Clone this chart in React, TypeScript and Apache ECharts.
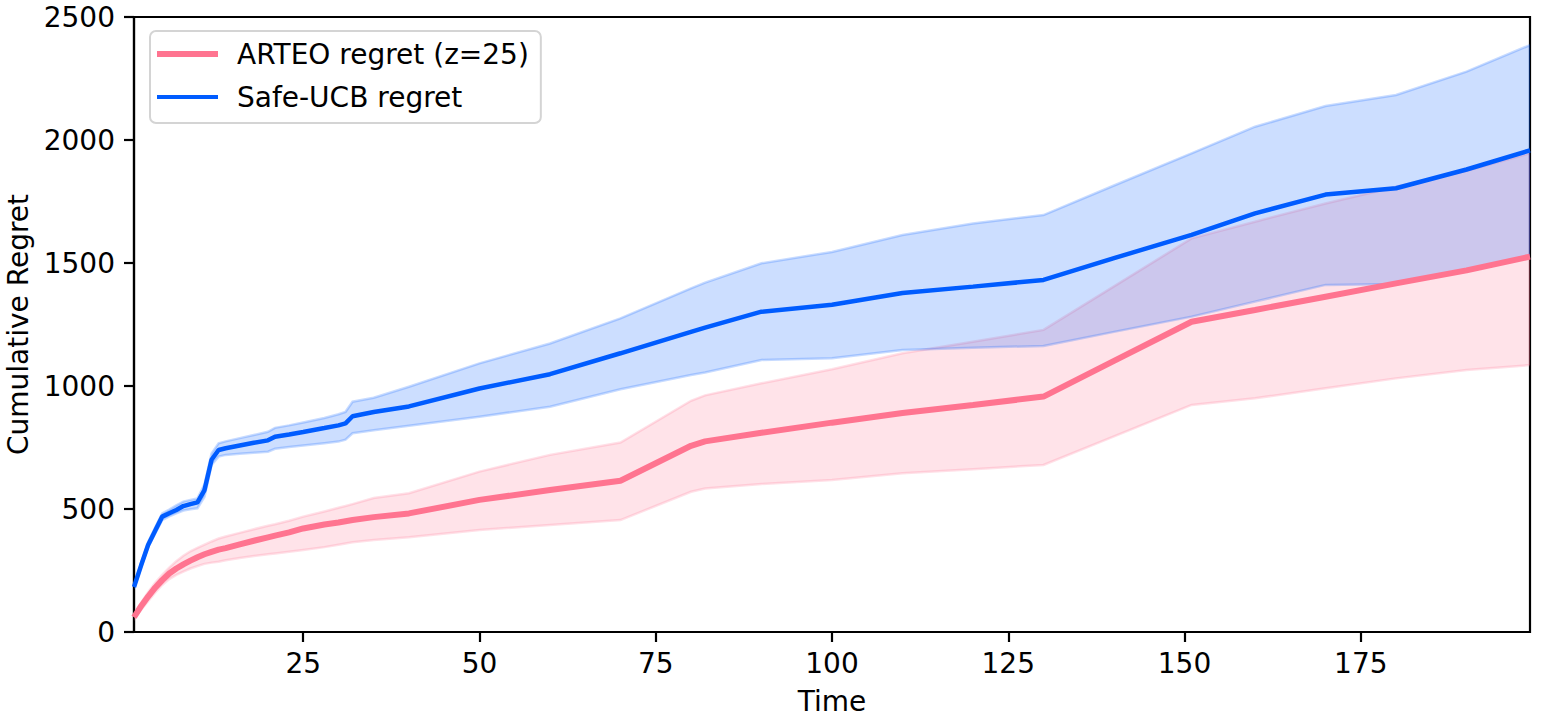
import React, { useEffect, useRef } from "react";
import * as echarts from "echarts";

const timeSteps = [1,2,3,4,5,6,7,8,9,10,11,12,13,14,16,18,20,21,23,25,28,30,31,32,35,40,50,60,70,80,82,90,100,110,120,130,140,151,160,170,180,190,199];

const arteoMean = [60,105,144,180,211,238,258,275,290,304,316,326,335,341,356,371,385,392,405,421,437,445,450,455,467,482,537,577,615,757,775,810,851,890,923,957,1102,1261,1309,1363,1417,1470,1526];
const arteoUpper = [68,118,162,200,232,262,288,310,328,342,355,368,380,388,403,418,432,438,452,469,490,505,512,520,545,564,652,720,770,940,962,1011,1068,1133,1180,1228,1405,1600,1668,1742,1810,1875,1946];
const arteoLower = [53,90,125,160,191,215,232,245,258,268,277,282,286,292,301,309,316,319,326,333,345,355,360,365,374,385,415,435,455,570,583,602,618,645,662,679,795,923,950,991,1031,1065,1085];

const ucbMean = [183,270,354,412,469,483,496,512,520,527,577,700,740,747,758,769,779,794,803,813,829,840,848,877,894,917,990,1048,1133,1220,1237,1302,1330,1378,1404,1431,1520,1614,1702,1778,1804,1880,1958];
const ucbUpper = [190,280,365,425,482,498,515,530,537,543,600,726,767,775,788,801,814,830,840,852,870,885,895,936,952,997,1092,1173,1275,1397,1420,1499,1545,1614,1661,1695,1815,1946,2054,2138,2183,2278,2386];
const ucbLower = [176,262,344,400,455,470,482,494,499,503,550,679,713,720,725,729,733,745,752,758,767,774,782,808,820,838,875,916,987,1045,1055,1106,1113,1146,1155,1163,1220,1282,1343,1411,1415,1470,1525];

const xTicks = [25, 50, 75, 100, 125, 150, 175];
const yTicks = [0, 500, 1000, 1500, 2000, 2500];

const ARTEO_NAME = "ARTEO regret (z=25)";
const UCB_NAME = "Safe-UCB regret";

const RED = "#ff7490";
const BLUE = "#005cff";
const FONT = "DejaVu Sans";
const FS = 28;

function pairs(ys: number[]) {
  return timeSteps.map((t, i) => [t, ys[i]]);
}

function bandSeries(key: string, lower: number[], upper: number[], color: string) {
  return {
    type: "custom",
    name: key + "_band",
    silent: true,
    z: 1,
    clip: true,
    data: timeSteps.map((t, i) => [t, lower[i], upper[i]]),
    encode: { x: 0, y: [1, 2] },
    renderItem: (params: any, api: any) => {
      if (params.dataIndex !== 0) return null;
      const pts: number[][] = [];
      for (let i = 0; i < timeSteps.length; i++) pts.push(api.coord([timeSteps[i], upper[i]]));
      for (let i = timeSteps.length - 1; i >= 0; i--) pts.push(api.coord([timeSteps[i], lower[i]]));
      return {
        type: "polygon",
        shape: { points: pts },
        style: {
          fill: echarts.color.modifyAlpha(color, 0.2),
          stroke: echarts.color.modifyAlpha(color, 0.22),
          lineWidth: 2.5,
        },
      };
    },
  };
}

export default function App() {
  const ref = useRef<HTMLDivElement>(null);
  useEffect(() => {
    document.body.style.margin = "0";
    if (!ref.current) return;
    const chart = echarts.init(ref.current, null, { renderer: "svg" });
    const axisLineStyle = { color: "#000", width: 2.2 };
    chart.setOption({
      animation: false,
      backgroundColor: "#fff",
      grid: {
        left: 134,
        top: 17,
        width: 1396,
        height: 615,
        containLabel: false,
        outerBoundsMode: "none",
        show: true,
        borderColor: "#000",
        borderWidth: 2.2,
        backgroundColor: "transparent",
      },
      legend: {
        data: [
          { name: ARTEO_NAME, icon: "path://M0,0H61V6H0Z" },
          { name: UCB_NAME, icon: "path://M0,0H61V0.01H0Z M0,1H61V5H0Z M0,5.99H61V6H0Z" },
        ],
        orient: "vertical",
        left: 150,
        top: 31,
        itemWidth: 61,
        itemHeight: 6,
        itemGap: 15,
        padding: [9, 12, 12, 7],
        borderColor: "#d4d4d4",
        borderWidth: 2,
        borderRadius: 6,
        backgroundColor: "rgba(255,255,255,0.8)",
        textStyle: { fontSize: FS, fontFamily: FONT, color: "#000", padding: [0, 0, 0, 14] },
      },
      xAxis: {
        type: "value",
        min: 1,
        max: 199,
        name: "Time",
        nameLocation: "middle",
        nameGap: 55,
        nameTextStyle: { fontSize: FS, fontFamily: FONT, color: "#000" },
        axisLine: { show: true, lineStyle: axisLineStyle },
        axisTick: { show: true, length: 10, lineStyle: axisLineStyle, customValues: xTicks },
        axisLabel: { fontSize: FS, fontFamily: FONT, color: "#000", margin: 17, customValues: xTicks },
        splitLine: { show: false },
      },
      yAxis: {
        type: "value",
        min: yTicks[0],
        max: yTicks[yTicks.length - 1],
        interval: 500,
        name: "Cumulative Regret",
        nameLocation: "middle",
        nameGap: 102,
        nameTextStyle: { fontSize: FS, fontFamily: FONT, color: "#000" },
        axisLine: { show: true, lineStyle: axisLineStyle },
        axisTick: { show: true, length: 10, lineStyle: axisLineStyle },
        axisLabel: {
          fontSize: FS,
          fontFamily: FONT,
          color: "#000",
          margin: 19,
          formatter: (v: number) => String(v),
        },
        splitLine: { show: false },
      },
      series: [
        bandSeries("arteo", arteoLower, arteoUpper, RED),
        bandSeries("ucb", ucbLower, ucbUpper, BLUE),
        {
          type: "line",
          name: ARTEO_NAME,
          data: pairs(arteoMean),
          symbol: "none",
          lineStyle: { color: RED, width: 6 },
          itemStyle: { color: RED },
          z: 3,
        },
        {
          type: "line",
          name: UCB_NAME,
          data: pairs(ucbMean),
          symbol: "none",
          lineStyle: { color: BLUE, width: 4.5 },
          itemStyle: { color: BLUE },
          z: 4,
        },
      ],
    });
    return () => chart.dispose();
  }, []);
  return <div ref={ref} style={{ width: 1546, height: 721 }} />;
}
